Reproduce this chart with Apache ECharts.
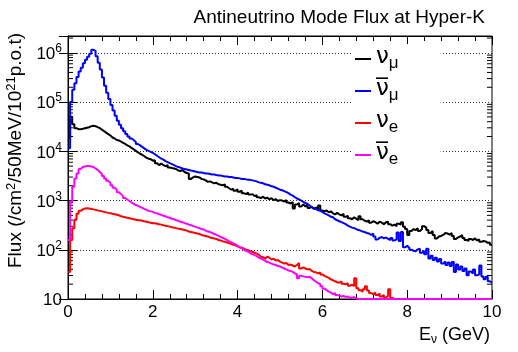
<!DOCTYPE html>
<html>
<head>
<meta charset="utf-8">
<script src="https://cdn.jsdelivr.net/npm/echarts@6/dist/echarts.min.js"></script>
<style>html,body{margin:0;padding:0;background:#fff}#c{width:518px;height:352px}</style>
</head>
<body>
<div id="c"></div>
<script>
// ---- data: flux per 50 MeV bin, bins from 0 to 10 GeV ----
const binWidth = 0.05; // GeV
const xTicks = [0, 2, 4, 6, 8, 10];
const yDecades = [10, 100, 1000, 10000, 100000, 1000000];

const numu = [18600,50100,35500,29500,28200,28200,28800,29500,30200,30900,
32400,33100,32400,30900,29500,27500,25700,24000,22400,20900,
19100,18200,17000,16600,15800,14800,14100,13200,12600,11700,
11000,10200,9550,8910,8510,7940,7410,7080,6920,6460,
6610,5750,5250,5620,5250,5010,5250,4680,4570,4470,
4370,4070,3980,4170,3800,3630,3550,2750,2950,3090,
3020,2950,2750,2690,2570,2400,2450,2340,2240,2290,
2140,2090,2040,2140,1910,1780,1660,1740,1580,1700,
1510,1580,1410,1350,1450,1320,1350,1230,1290,1170,
1120,1200,1100,1150,1050,1120,1020,1070,977,1020,
1000,955,1020,912,871,933,692,832,891,759,
832,759,832,708,741,676,724,661,794,631,
603,631,575,603,550,525,562,525,501,537,
468,490,437,417,457,427,398,479,417,389,
372,398,355,380,363,339,372,355,331,363,
372,331,309,324,302,339,324,363,295,263,
200,240,263,251,275,240,263,302,282,251,
219,240,200,170,186,191,200,219,214,204,
219,191,166,178,186,200,174,158,151,166,
158,170,155,162,145,151,148,138,141,126];

const numubar = [11500,100000,178000,240000,324000,417000,501000,617000,724000,832000,
955000,1150000,1100000,851000,631000,457000,316000,214000,155000,115000,
87100,67600,52500,41700,34700,29500,25700,22400,20000,18200,
17000,15500,14100,13200,12300,11500,10700,10200,9770,9330,
8710,8130,7590,7080,6760,6310,6030,5750,5500,5250,
5010,4790,4680,4470,4370,4270,4170,4070,3980,3890,
3800,3720,3720,3630,3550,3550,3470,3390,3390,3310,
3240,3240,3160,3090,3090,3020,3020,2950,2880,2880,
2820,2750,2750,2690,2630,2630,2570,2510,2450,2340,
2290,2240,2140,2090,2040,1950,1910,1820,1740,1660,
1620,1550,1480,1410,1320,1260,1170,1100,1050,1000,
933,891,851,794,741,692,676,631,617,589,
550,525,501,468,457,417,398,380,363,347,
331,309,295,282,275,263,251,245,234,229,
219,214,200,214,186,162,174,182,170,178,
166,158,174,155,162,224,151,229,112,120,
110,100,95.5,93.3,102,105,87.1,95.5,81.3,105,
66.1,75.9,61.7,69.2,57.5,64.6,52.5,57.5,49.0,55.0,
46.8,56.2,35.5,50.1,39.8,45.7,37.2,41.7,30.2,36.3,
33.1,39.8,30.2,31.6,47.9,28.8,25.1,28.2,22.9,21.4];

const nue = [35.5,158,275,407,537,617,661,692,700,692,
676,661,646,631,617,603,589,575,562,550,
537,525,513,501,479,468,457,447,437,427,
417,407,398,398,389,380,372,363,355,347,
347,339,331,324,316,309,302,295,288,282,
275,269,263,257,251,245,234,229,224,219,
214,209,200,195,191,186,178,174,170,166,
158,155,148,145,141,135,132,126,123,117,
112,110,105,100,97.7,93.3,91.2,87.1,83.2,79.4,
72.4,70.8,66.1,72.4,69.2,63.1,66.1,60.3,61.7,57.5,
55.0,52.5,53.7,49.0,50.1,47.9,45.7,49.0,53.7,41.7,
43.7,41.7,39.8,40.7,37.2,35.5,34.7,33.1,34.7,31.6,
29.5,28.2,26.9,25.1,24.0,22.9,21.9,21.4,22.9,20.4,
20.0,20.9,18.6,19.5,18.2,26.3,16.6,15.1,14.1,15.8,
18.2,14.8,13.2,12.6,13.5,12.0,12.9,11.2,12.0,10.7,
11.5,15.8,10.5,8.5,9.3,7.8,8.1,7.2,6.9,7.5,
6.3,6.0,6.6,5.5,5.8,5.1,4.9,5.4,4.5,4.2,
4.6,3.9,3.7,4.0,3.4,3.3,3.6,3.0,2.9,3.1,
2.6,2.5,2.7,2.3,2.2,2.4,2.0,1.9,2.1,1.8,
1.7,1.6,1.7,1.5,1.4,1.5,1.3,1.2,1.3,1.1];

const nuebar = [158,955,1910,2820,3550,4370,4790,4900,5010,5010,
4900,4790,4470,4170,3800,3470,3160,2820,2510,2290,
2040,1820,1660,1480,1350,1230,1120,1050,977,912,
851,813,776,741,708,676,646,617,603,589,
562,550,525,513,490,479,457,447,427,417,
398,389,372,363,347,339,324,316,302,295,
282,275,263,257,245,234,229,219,209,200,
191,182,174,166,158,148,141,135,129,120,
112,107,100,95.5,91.2,85.1,81.3,77.6,74.1,69.2,
66.1,63.1,60.3,56.2,55.0,52.5,50.1,49.0,46.8,45.7,
43.7,41.7,39.8,38.0,37.2,35.5,33.1,31.6,26.3,29.5,
28.8,28.2,27.5,28.2,26.3,24.0,22.4,20.9,20.0,18.2,
16.2,15.1,14.1,13.5,12.6,13.2,12.0,11.7,11.2,11.5,
11.0,11.2,10.7,10.5,11.0,10.2,9.8,9.5,9.0,8.6,
8.9,8.1,7.6,7.9,7.2,6.8,7.0,6.3,6.0,6.2,
5.6,5.3,5.5,4.9,4.6,4.8,4.3,4.0,4.2,3.7,
3.5,3.6,3.2,3.0,3.1,2.8,2.6,2.7,2.4,2.3,
2.4,2.1,2.0,2.1,1.9,1.8,1.8,1.6,1.5,1.6,
1.4,1.3,1.4,1.2,1.2,1.1,1.1,1.0,1.0,0.9,
0.9,0.85,0.8,0.8,0.75,0.7,0.7,0.65,0.6,0.6];

const seriesKeys = ['numu', 'numubar', 'nue', 'nuebar'];
const seriesColors = ['#000000', '#0000ff', '#ff0000', '#ff00ff'];
const seriesData = [numu, numubar, nue, nuebar];
const legendText = {
  numu: '{nu|\u03BD}{sub|\u03BC}',
  numubar: '{nu|\u03BD\u0305}{sub|\u03BC}',
  nue: '{nu|\u03BD}{sub|e}',
  nuebar: '{nu|\u03BD\u0305}{sub|e}'
};

// ---- chart ----
const Y_MIN = 10, Y_MAX = 2.2e6, X_MIN = 0, X_MAX = 10;
const FONT = '"Liberation Sans", Arial, Helvetica, sans-serif';

function histPoints(vals) {
  const pts = [];
  vals.forEach((v, i) => {
    const y = Math.max(v, Y_MIN); // ROOT draws underflow bins on the frame floor
    pts.push([+(i * binWidth).toFixed(4), y], [+((i + 1) * binWidth).toFixed(4), y]);
  });
  return pts;
}

const yMinorValues = [];
yDecades.forEach(d => {
  for (let m = 2; m <= 9; m++) { const v = d * m; if (v < Y_MAX) yMinorValues.push(v); }
});

function yLabel(v) {
  const e = Math.round(Math.log10(v));
  if (Math.abs(v - Math.pow(10, e)) / v > 1e-6) return '';
  if (e === 1) return '{b|10}';
  return '{b|10}{s|' + e + '}';
}

const series = seriesKeys.map((k, i) => ({
  name: k,
  type: 'line',
  data: histPoints(seriesData[i]),
  showSymbol: false,
  symbol: 'none',
  lineStyle: { color: seriesColors[i], width: 2 },
  itemStyle: { color: seriesColors[i] },
  emphasis: { disabled: true },
  animation: false,
  z: 4 + i
}));

series.push({
  type: 'custom',
  silent: true,
  animation: false,
  clip: false,
  z: 3,
  data: yMinorValues.map(v => [X_MIN, v]),
  renderItem: function (params, api) {
    const v = api.value(1);
    const l = api.coord([X_MIN, v]);
    const r = api.coord([X_MAX, v]);
    return {
      type: 'group',
      children: [
        { type: 'line', shape: { x1: l[0], y1: l[1], x2: l[0] + 5, y2: l[1] }, style: { stroke: '#000', lineWidth: 1 } },
        { type: 'line', shape: { x1: r[0] - 5, y1: r[1], x2: r[0], y2: r[1] }, style: { stroke: '#000', lineWidth: 1 } }
      ]
    };
  }
});

const chart = echarts.init(document.getElementById('c'), null, { renderer: 'canvas' });
chart.setOption({
  animation: false,
  backgroundColor: '#fff',
  textStyle: { fontFamily: FONT },
  title: {
    text: 'Antineutrino Mode Flux at Hyper-K',
    right: 28, top: 3,
    textStyle: { fontFamily: FONT, fontSize: 19, fontWeight: 'normal', color: '#000' }
  },
  grid: { left: 68, right: 26, top: 36, bottom: 53, containLabel: false, outerBoundsMode: 'none',
    show: true, borderColor: '#000', borderWidth: 1, backgroundColor: 'transparent' },
  legend: {
    data: seriesKeys,
    orient: 'vertical',
    left: 352, top: 44,
    padding: [2, 42, 4, 3],
    itemGap: 3,
    itemWidth: 16, itemHeight: 2,
    icon: 'rect',
    backgroundColor: '#fff',
    selectedMode: false,
    formatter: name => legendText[name],
    textStyle: {
      color: '#000',
      rich: {
        nu: { fontFamily: '"DejaVu Sans"', fontSize: 23, lineHeight: 26, verticalAlign: 'top', padding: [0, 0, 6, 0], color: '#000' },
        sub: { fontFamily: FONT, fontSize: 17, lineHeight: 17, verticalAlign: 'bottom', color: '#000' }
      }
    }
  },
  xAxis: [{
    type: 'value', min: X_MIN, max: X_MAX, interval: 2,
    axisLine: { show: true, lineStyle: { color: '#000', width: 1 } },
    axisTick: { show: true, inside: true, length: 9, lineStyle: { color: '#000' } },
    minorTick: { show: true, splitNumber: 5, length: 5, lineStyle: { color: '#000' } },
    splitLine: { show: false },
    axisLabel: { color: '#000', fontSize: 17, fontFamily: FONT, margin: 5,
      formatter: v => (xTicks.indexOf(v) >= 0 ? String(v) : '') },
    name: '{a|E}{s|\u03BD}{a| (GeV)}',
    nameLocation: 'end', nameGap: -2,
    nameTextStyle: {
      align: 'right', verticalAlign: 'top', padding: [27, 0, 0, 0],
      rich: {
        a: { fontFamily: FONT, fontSize: 18, lineHeight: 20, verticalAlign: 'top', padding: [0, 0, 4, 0], color: '#000' },
        s: { fontFamily: FONT, fontSize: 12, lineHeight: 12, verticalAlign: 'bottom', color: '#000' }
      }
    }
  }, {
    type: 'value', position: 'top', min: X_MIN, max: X_MAX, interval: 2,
    axisLine: { show: true, lineStyle: { color: '#000', width: 1 } },
    axisTick: { show: true, inside: true, length: 9, lineStyle: { color: '#000' } },
    minorTick: { show: true, splitNumber: 5, length: 5, lineStyle: { color: '#000' } },
    splitLine: { show: false },
    axisLabel: { show: false }
  }],
  yAxis: [{
    type: 'log', logBase: 10, min: Y_MIN, max: Y_MAX,
    axisLine: { show: true, lineStyle: { color: '#000', width: 1 } },
    axisTick: { show: true, inside: true, length: 9, lineStyle: { color: '#000' } },
    splitLine: { show: true, lineStyle: { color: '#333', width: 1, type: [1, 2] } },
    axisLabel: {
      color: '#000', margin: 6, formatter: yLabel,
      rich: {
        b: { fontFamily: FONT, fontSize: 17, lineHeight: 20, verticalAlign: 'bottom', padding: [6, 0, 0, 0], color: '#000' },
        s: { fontFamily: FONT, fontSize: 12, lineHeight: 12, verticalAlign: 'top', color: '#000' }
      }
    },
    name: '{a|Flux (/cm}{s|2}{a|/50MeV/10}{s|21}{a|p.o.t)}',
    nameLocation: 'middle', nameGap: 37, nameRotate: 90,
    nameTextStyle: {
      padding: [0, 0, 0, 34],
      rich: {
        a: { fontFamily: FONT, fontSize: 19, lineHeight: 21, verticalAlign: 'bottom', padding: [5, 0, 0, 0], color: '#000' },
        s: { fontFamily: FONT, fontSize: 13, lineHeight: 13, verticalAlign: 'top', color: '#000' }
      }
    }
  }, {
    type: 'log', logBase: 10, min: Y_MIN, max: Y_MAX, position: 'right',
    axisLine: { show: true, lineStyle: { color: '#000', width: 1 } },
    axisTick: { show: true, inside: true, length: 9, lineStyle: { color: '#000' } },
    splitLine: { show: false },
    axisLabel: { show: false }
  }],
  series: series
});
</script>
</body>
</html>
